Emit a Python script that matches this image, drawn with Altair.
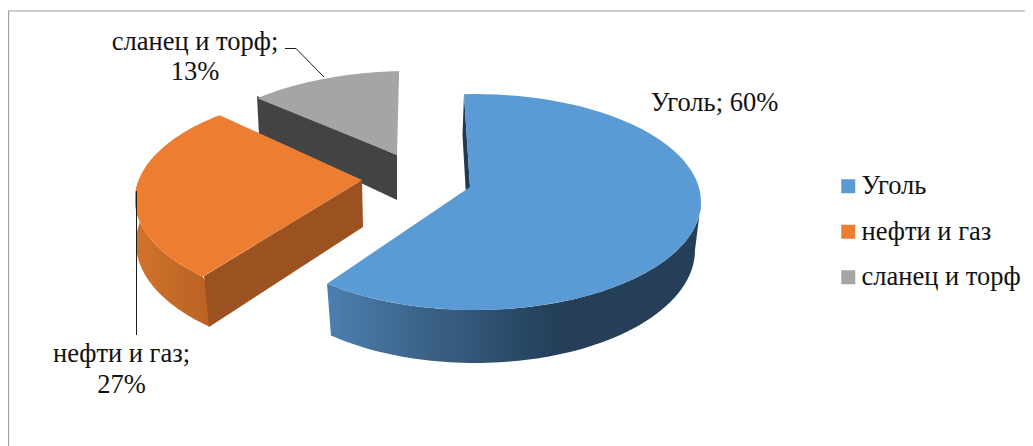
import math
import altair as alt
import pandas as pd

# ---- values
categories = ["Уголь", "нефти и газ", "сланец и торф"]
shares = [60, 27, 13]
colors = ["#5B9BD5", "#ED7D31", "#A5A5A5"]

FONT = "Liberation Serif"
W, H = 1017, 438
x_scale = alt.Scale(domain=[8, 8 + W], range=[0, W])
y_scale = alt.Scale(domain=[8, 8 + H], range=[0, H])
X = lambda: alt.X("x:Q", scale=x_scale, axis=None)
Y = lambda: alt.Y("y:Q", scale=y_scale, axis=None)

# ---- projection of the tilted, exploded pie (one ellipse per slice)
top_rim = {
    0: (475, 202, 226, 108),
    1: (366, 199.5, 231, 109),
    2: (410, 180, 231, 109),
}
low_rim = {
    0: (475, 250, 220, 113),
    1: (360, 243, 224, 113),
}
apex = {0: (470, 187), 1: (362, 180), 2: (397, 155)}
# perspective makes the drawn angle differ a little from the share
angle_shift = {0: (-2.8, 4.9), 1: (9.0, 7.5), 2: (5.4, -2.7)}
orange_low_start = 222.2


def slice_angles(i):
    start = sum(shares[:i]) / sum(shares) * 360
    end = sum(shares[: i + 1]) / sum(shares) * 360
    return start + angle_shift[i][0], end + angle_shift[i][1]


def rim(ellipse, t0, t1, steps=80):
    cx, cy, a, b = ellipse
    pts = []
    for k in range(steps + 1):
        t = math.radians(t0 + (t1 - t0) * k / steps)
        pts.append((cx + a * math.sin(t), cy - b * math.cos(t)))
    return pts


def frame(pts, **extra):
    df = pd.DataFrame(pts, columns=["x", "y"])
    df["o"] = range(len(df))
    for k, v in extra.items():
        df[k] = v
    return df


def face(pts, fill):
    return (
        alt.Chart(frame(pts))
        .mark_line(filled=True, fill=fill, stroke=None, strokeWidth=0, interpolate="linear")
        .encode(x=X(), y=Y(), order="o:Q")
    )


# top faces
tops = []
for i, c in enumerate(categories):
    t0, t1 = slice_angles(i)
    tops.append(frame([apex[i]] + rim(top_rim[i], t0, t1), series=c))
tops_df = pd.concat(tops)


def top_layer(i):
    return (
        alt.Chart(tops_df[tops_df.series == categories[i]])
        .mark_line(filled=True, strokeWidth=0, interpolate="linear")
        .encode(
            x=X(),
            y=Y(),
            order="o:Q",
            color=alt.Color(
                "series:N",
                scale=alt.Scale(domain=categories, range=colors),
                legend=alt.Legend(
                    title=None,
                    orient="none",
                    legendX=824,
                    legendY=165,
                    symbolType="square",
                    symbolSize=196,
                    symbolOffset=3,
                    symbolStrokeWidth=0,
                    labelFont=FONT,
                    labelFontSize=26.5,
                    labelColor="#111111",
                    labelOffset=0,
                    rowPadding=18.5,
                    labelLimit=300,
                    values=categories,
                ),
            ),
        )
    )


# sides
grey_side = face([(257, 96), (397, 155), (397, 200), (259, 135)], "#434343")

o_t0, o_t1 = slice_angles(1)
orange_straight = face([(362, 180), (204, 276), (209, 327), (363, 227)], "#9C5220")
orange_curved = face(
    rim(top_rim[1], o_t0, 280) + rim(low_rim[1], 280, orange_low_start) + [(216, 300)],
    alt.Gradient(
        gradient="linear",
        x1=0, x2=1, y1=0, y2=0,
        stops=[
            alt.GradientStop(color="#D0742C", offset=0),
            alt.GradientStop(color="#B96023", offset=1),
        ],
    ),
)

b_t0, b_t1 = slice_angles(0)
blue_inner = face([(464, 94), (462.5, 135), (468, 230), (470, 187)], "#1F3A52")
blue_side = face(
    rim(top_rim[0], 90, b_t1) + rim(low_rim[0], b_t1, 90),
    alt.Gradient(
        gradient="linear",
        x1=0, x2=1, y1=0, y2=0,
        stops=[
            alt.GradientStop(color="#4B7FB0", offset=0),
            alt.GradientStop(color="#3C6489", offset=0.25),
            alt.GradientStop(color="#2B4C6B", offset=0.48),
            alt.GradientStop(color="#243F57", offset=0.62),
            alt.GradientStop(color="#243F57", offset=1),
        ],
    ),
)

# frame of the picture (only the top and left edges are in view)
border = (
    alt.Chart(frame([(8.5, 446), (8.5, 11), (1033, 11)]))
    .mark_line(color="#A0A0A0", strokeWidth=1.2)
    .encode(x=X(), y=Y(), order="o:Q")
)

# leader lines
leaders_df = pd.concat([
    frame([(285, 48.5), (296, 48.5), (324, 77)], k="a"),
    frame([(136.5, 191), (136.5, 335)], k="b"),
])
leaders = (
    alt.Chart(leaders_df)
    .mark_line(color="#1A1A1A", strokeWidth=1)
    .encode(x=X(), y=Y(), order="o:Q", detail="k:N")
)

# data labels
label_x = [714.5, 121.5, 195]
label_y = [[111], [362, 393], [50, 80]]
label_rows = []
label_rows.append({"x": label_x[0], "y": label_y[0][0], "t": f"{categories[0]}; {shares[0]}%"})
for i in (1, 2):
    label_rows.append({"x": label_x[i], "y": label_y[i][0], "t": f"{categories[i]};"})
    label_rows.append({"x": label_x[i], "y": label_y[i][1], "t": f"{shares[i]}%"})
labels = (
    alt.Chart(pd.DataFrame(label_rows))
    .mark_text(font=FONT, fontSize=26.5, color="#111111", align="center", baseline="alphabetic")
    .encode(x=X(), y=Y(), text="t:N")
)

chart = alt.layer(
    border,
    grey_side,
    top_layer(2),
    orange_curved,
    orange_straight,
    top_layer(1),
    blue_inner,
    blue_side,
    top_layer(0),
    leaders,
    labels,
).properties(
    width=W, height=H, padding=0, autosize="none"
).configure_view(stroke=None).resolve_scale(color="shared")

chart.save("out.html", embed_options={"renderer": "svg", "actions": False})
